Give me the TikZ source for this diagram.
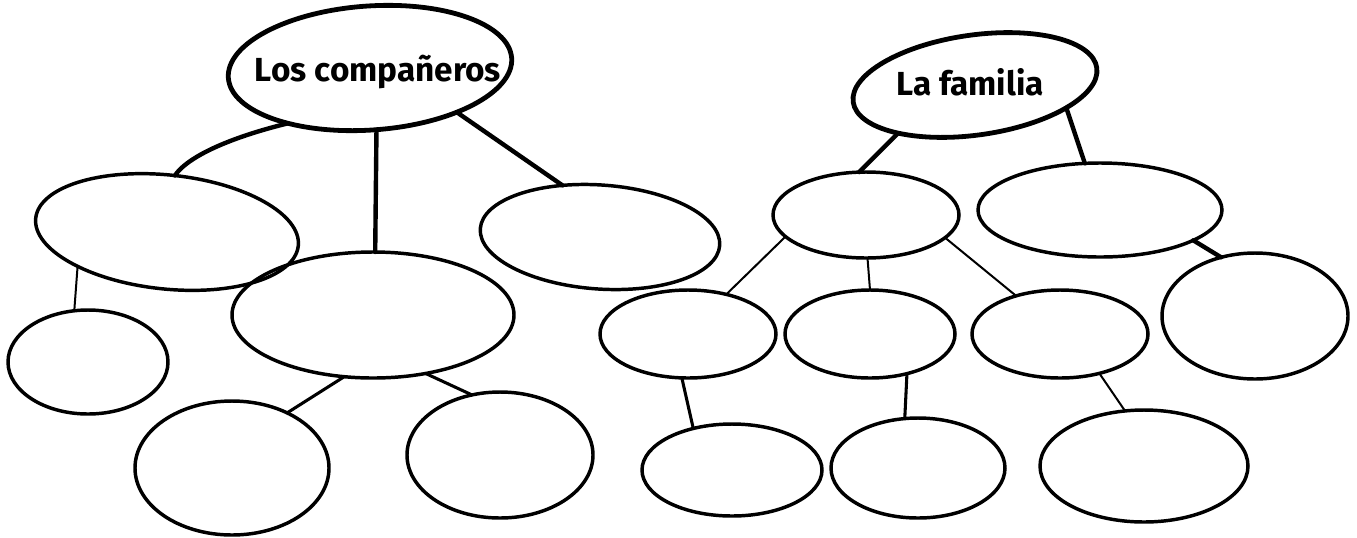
\documentclass[tikz,border=0pt]{standalone}
\usepackage{fontspec}
\setmainfont{Fira Sans}
\usetikzlibrary{shapes.geometric}

\begin{document}
\begin{tikzpicture}[x=0.75pt,y=0.75pt,yscale=-1,xscale=1,
        bubble/.style={ellipse, draw, line width=2.6pt, inner sep=0pt, outer sep=0pt},
        headbubble/.style={bubble, line width=3.6pt},
        headlabel/.style={font=\fontsize{25}{28}\selectfont\bfseries},
        thicklink/.style={line width=3.3pt, line cap=round},
        midlink/.style={line width=2.3pt, line cap=round},
        thinlink/.style={line width=1.5pt, line cap=round}]
        \useasboundingbox (0,0) rectangle (1357,537);

        %Shape: Ellipse [id:companeros] 
        \node [headbubble, minimum width=213pt, minimum height=93pt, rotate=4] (comp) at (370,68) {};
        \node [headlabel] (complabel) at (378,72) {Los compañeros};
        %Shape: Ellipse [id:familia] 
        \node [headbubble, minimum width=184.5pt, minimum height=75pt, rotate=8] (fam) at (975,85) {};
        \node [headlabel] (famlabel) at (970,82) {La familia};

        %Shapes: Ellipses, left tree
        \node [bubble, minimum width=198pt, minimum height=85.5pt, rotate=-6] (compa) at (167,232) {};
        \node [bubble, minimum width=211.5pt, minimum height=94.5pt] (compb) at (373,315) {};
        \node [bubble, minimum width=180pt, minimum height=78pt, rotate=-4] (compc) at (600,237) {};
        \node [bubble, minimum width=120pt, minimum height=78pt] (compd) at (88,362) {};
        \node [bubble, minimum width=145.5pt, minimum height=100.5pt] (compe) at (232,468) {};
        \node [bubble, minimum width=139.5pt, minimum height=94.5pt] (compf) at (500,455) {};

        %Shapes: Ellipses, right tree
        \node [bubble, minimum width=139.5pt, minimum height=64.5pt] (famg) at (866,215) {};
        \node [bubble, minimum width=183pt, minimum height=70.5pt] (famh) at (1100,210) {};
        \node [bubble, minimum width=132pt, minimum height=66pt] (fami) at (688,334) {};
        \node [bubble, minimum width=127.5pt, minimum height=66pt] (famj) at (870,334) {};
        \node [bubble, minimum width=132pt, minimum height=66pt] (famk) at (1060,334) {};
        \node [bubble, minimum width=139.5pt, minimum height=94.5pt] (faml) at (1255,316) {};
        \node [bubble, minimum width=135pt, minimum height=69pt] (famm) at (732,470) {};
        \node [bubble, minimum width=130.5pt, minimum height=75pt] (famn) at (918,468) {};
        \node [bubble, minimum width=156pt, minimum height=84pt] (famo) at (1144,466) {};

        %Straight Lines, left tree
        \draw [thicklink] (comp.210) .. controls (220,140) and (185,160) .. (compa.88) ;
        \draw [thicklink] (comp.272) -- (compb.88) ;
        \draw [thicklink] (comp.329) -- (compc.130) ;
        \draw [thinlink] (compa.207) -- (compd.105) ;
        \draw [midlink] (compb.245) -- (compe.45) ;
        \draw [midlink] (compb.312) -- (compf.115) ;

        %Straight Lines, right tree
        \draw [thicklink] (fam.204) -- (famg.99) ;
        \draw [thicklink] (fam.338) -- (famh.108) ;
        \draw [thinlink] (famg.195) -- (fami.46) ;
        \draw [thinlink] (famg.272) -- (famj.90) ;
        \draw [thinlink] (famg.344) -- (famk.139) ;
        \draw [thicklink] (famh.342) -- (faml.120) ;
        \draw [midlink] (fami.262) -- (famm.133) ;
        \draw [midlink] (famj.313) -- (famn.105) ;
        \draw [thinlink] (famk.315) -- (famo.109) ;

\end{tikzpicture}
\end{document}
